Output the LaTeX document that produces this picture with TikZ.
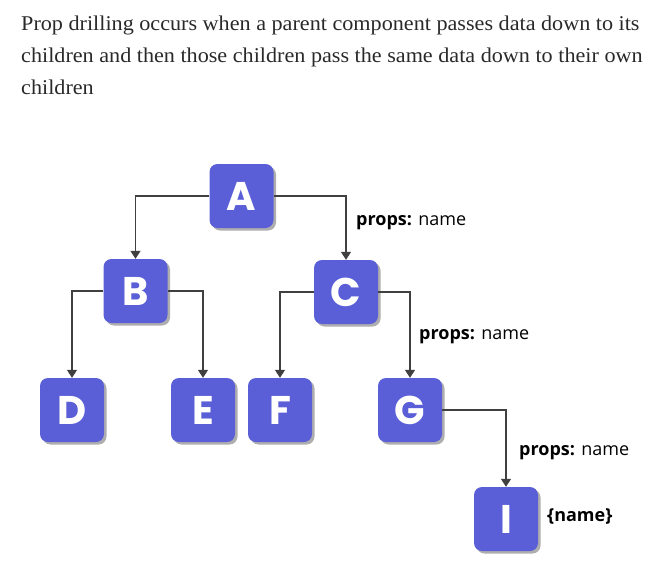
\documentclass[tikz,border=0pt]{standalone}
\usepackage{fontspec}
\setmainfont{Liberation Serif}[FakeStretch=1.055]
\newfontfamily\boxfont{Poppins}
\newfontfamily\labelfont{Open Sans}
\usepackage{tikz}
\usetikzlibrary{arrows.meta,shadows}
\definecolor{bodytext}{HTML}{292929}
\definecolor{boxfill}{HTML}{5B5FD7}
\definecolor{wire}{HTML}{404040}
\tikzset{
  para/.style={anchor=base west, inner sep=0pt, text=bodytext, font=\fontsize{21}{21}\selectfont},
  comp/.style={fill=boxfill, rounded corners=8pt, minimum width=64pt, minimum height=64pt,
    inner sep=0pt, text=white, font=\boxfont\bfseries\fontsize{40}{40}\selectfont,
    drop shadow={shadow xshift=2.5pt, shadow yshift=-2.5pt, opacity=0.45, fill=black!70}},
  proplabel/.style={anchor=base west, inner sep=0pt, text=black, font=\labelfont\fontsize{18}{18}\selectfont},
  passarr/.style={-{Triangle[length=8pt, width=10pt]}, draw=wire, line width=1.4pt}
}
\begin{document}
\begin{tikzpicture}[x=1pt, y=-1pt]
  \useasboundingbox (0,0) rectangle (659,574);
  % Intro text
  \node[para] (line1) at (21,30) {Prop drilling occurs when a parent component passes data down to its};
  \node[para] (line2) at (21,62) {children and then those children pass the same data down to their own};
  \node[para] (line3) at (21,94) {children};

  % Components
  \node[comp] (A) at (241.5,196) {A};
  \node[comp] (B) at (135.5,291) {B};
  \node[comp] (C) at (346,292) {C};
  \node[comp] (D) at (72,410) {D};
  \node[comp] (E) at (203,410) {E};
  \node[comp] (F) at (280,410) {F};
  \node[comp] (G) at (410,410) {G};
  \node[comp] (I) at (506,519) {I};

  % Props passed down
  \draw[passarr] (A) -| (B);
  \draw[passarr] (A) -| (C);
  \draw[passarr] (B) -| (D);
  \draw[passarr] (B) -| (E);
  \draw[passarr] (C) -| (F);
  \draw[passarr] (C) -| (G);
  \draw[passarr] (G) -| (I);

  \node[proplabel] (propsC) at (356,225) {\textbf{props:} name};
  \node[proplabel] (propsG) at (419,339) {\textbf{props:} name};
  \node[proplabel] (propsI) at (519,455) {\textbf{props:} name};
  \node[proplabel] (useI) at (547,521) {\textbf{\{name\}}};
\end{tikzpicture}
\end{document}
